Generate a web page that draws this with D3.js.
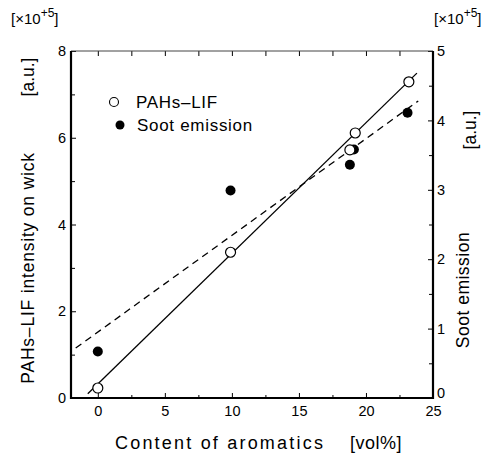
<!DOCTYPE html>
<html><head><meta charset="utf-8">
<script src="https://cdn.jsdelivr.net/npm/d3@7"></script>
<style>
body{margin:0;background:#fff;}
text{font-family:Arial,"Liberation Sans",sans-serif;fill:#000;}
</style></head>
<body><svg id="c" width="493" height="454"></svg>
<script>
// Data
const aromatics = [0, 9.9, 18.8, 19.2, 23.2];
const pahsLIF = [0.23, 3.36, 5.72, 6.11, 7.29];          // left axis, x10^5 a.u.
const sootX = [0, 9.9, 18.8, 19.1, 23.1];
const sootEmission = [0.67, 2.99, 3.36, 3.58, 4.11];      // right axis, x10^5 a.u.
const pahsFitX = [-0.75, 23.8];
const pahsFitY = [0.1, 7.49];
const sootFitX = [-1.65, 23.9];
const sootFitY = [0.72, 4.28];
const xTicks = [0, 5, 10, 15, 20, 25];
const xMinor = [-2.5, 2.5, 7.5, 12.5, 17.5, 22.5];
const yLTicks = [0, 2, 4, 6, 8];
const yLMinor = [1, 3, 5, 7];
const yRTicks = [0, 1, 2, 3, 4, 5];
const yRMinor = [0.5, 1.5, 2.5, 3.5, 4.5];

const svg = d3.select("#c");
const L = 71, R = 433, T = 51, B = 398;
const x = d3.scaleLinear().domain([-2, 25]).range([L, R]);
const yL = d3.scaleLinear().domain([0, 8]).range([B, T]);
const yR = d3.scaleLinear().domain([0, 5]).range([B, T]);

function styleAxis(g){ g.select(".domain").remove(); g.selectAll("line").attr("stroke","#000").attr("stroke-width",1); g.selectAll("text").attr("font-size","14.5px").attr("font-family","Arial, 'Liberation Sans', sans-serif"); }

// bottom
svg.append("g").attr("transform",`translate(0,${B})`)
  .call(d3.axisBottom(x).tickValues(xTicks).tickSizeInner(-5).tickSizeOuter(0).tickPadding(8).tickFormat(d3.format("d")))
  .call(styleAxis);
svg.append("g").attr("transform",`translate(0,${B})`)
  .call(d3.axisBottom(x).tickValues(xMinor.filter(v=>v>-2)).tickSizeInner(-3).tickSizeOuter(0).tickFormat(""))
  .call(styleAxis);
// top
svg.append("g").attr("transform",`translate(0,${T})`)
  .call(d3.axisTop(x).tickValues(xTicks.concat(xMinor.filter(v=>v>-2))).tickSizeInner(-5).tickSizeOuter(0).tickFormat(""))
  .call(styleAxis);
// left
svg.append("g").attr("transform",`translate(${L},0)`)
  .call(d3.axisLeft(yL).tickValues(yLTicks).tickSizeInner(-5).tickSizeOuter(0).tickPadding(5).tickFormat(d3.format("d")))
  .call(styleAxis);
svg.append("g").attr("transform",`translate(${L},0)`)
  .call(d3.axisLeft(yL).tickValues(yLMinor).tickSizeInner(-4).tickSizeOuter(0).tickFormat(""))
  .call(styleAxis);
// right
const rAx = svg.append("g").attr("transform",`translate(${R},0)`)
  .call(d3.axisRight(yR).tickValues(yRTicks).tickSizeInner(-5).tickSizeOuter(0).tickPadding(4).tickFormat(d3.format("d")))
  .call(styleAxis);
rAx.selectAll(".tick").filter(d=>d===0).select("text").attr("dy","-0.05em");
svg.append("g").attr("transform",`translate(${R},0)`)
  .call(d3.axisRight(yR).tickValues(yRMinor).tickSizeInner(-4).tickSizeOuter(0).tickFormat(""))
  .call(styleAxis);

// frame
svg.append("line").attr("x1",L).attr("x2",R).attr("y1",T).attr("y2",T).attr("stroke","#444").attr("stroke-width",1);
svg.append("line").attr("x1",L).attr("x2",R).attr("y1",B).attr("y2",B).attr("stroke","#000").attr("stroke-width",2.2);
svg.append("line").attr("x1",L).attr("x2",L).attr("y1",T).attr("y2",B+1).attr("stroke","#000").attr("stroke-width",2.2);
svg.append("line").attr("x1",R).attr("x2",R).attr("y1",T).attr("y2",B+1).attr("stroke","#000").attr("stroke-width",2.2);

// fit lines
const line = (ys)=>d3.line().x(d=>x(d[0])).y(d=>ys(d[1]));
svg.append("path").datum(d3.zip(pahsFitX, pahsFitY)).attr("d", line(yL)).attr("fill","none").attr("stroke","#000").attr("stroke-width",1.3);
svg.append("path").datum(d3.zip(sootFitX, sootFitY)).attr("d", line(yR)).attr("fill","none").attr("stroke","#000").attr("stroke-width",1.3).attr("stroke-dasharray","7,5");

// points
svg.append("g").selectAll("circle").data(d3.zip(sootX, sootEmission)).join("circle")
  .attr("cx",d=>x(d[0])).attr("cy",d=>yR(d[1])).attr("r",5).attr("fill","#000");
svg.append("g").selectAll("circle").data(d3.zip(aromatics, pahsLIF)).join("circle")
  .attr("cx",d=>x(d[0])).attr("cy",d=>yL(d[1])).attr("r",5).attr("fill","#fff").attr("stroke","#000").attr("stroke-width",1.2);

// legend
svg.append("circle").attr("cx",114).attr("cy",102).attr("r",4.5).attr("fill","#fff").attr("stroke","#000").attr("stroke-width",1.1);
svg.append("circle").attr("cx",120).attr("cy",125).attr("r",4.5).attr("fill","#000");
svg.append("text").attr("x",136).attr("y",108).attr("font-size","17px").attr("letter-spacing","0.7px").text("PAHs–LIF");
svg.append("text").attr("x",137).attr("y",131).attr("font-size","17px").attr("letter-spacing","0.7px").text("Soot emission");

// axis titles
svg.append("text").attr("transform","translate(34,268) rotate(-90)").attr("text-anchor","middle").attr("font-size","17.5px").attr("letter-spacing","0.8px").text("PAHs–LIF intensity on wick");
svg.append("text").attr("transform","translate(34,77) rotate(-90)").attr("text-anchor","middle").attr("font-size","17.5px").text("[a.u.]");
svg.append("text").attr("transform","translate(469,290) rotate(-90)").attr("text-anchor","middle").attr("font-size","17.5px").attr("letter-spacing","0.5px").text("Soot emission");
svg.append("text").attr("transform","translate(476,130) rotate(-90)").attr("text-anchor","middle").attr("font-size","17.5px").text("[a.u.]");
svg.append("text").attr("x",115).attr("y",449).attr("font-size","18px").attr("letter-spacing","2.2px").text("Content of aromatics");
svg.append("text").attr("x",350).attr("y",449).attr("font-size","18px").attr("letter-spacing","0.5px").text("[vol%]");

// multipliers
function mult(xp){
  const t = svg.append("text").attr("x",xp).attr("y",24).attr("font-size","15px");
  t.append("tspan").text("[×10");
  t.append("tspan").attr("dy",-7).attr("font-size","12px").text("+5");
  t.append("tspan").attr("dy",7).text("]");
}
mult(11); mult(434);
</script></body></html>
